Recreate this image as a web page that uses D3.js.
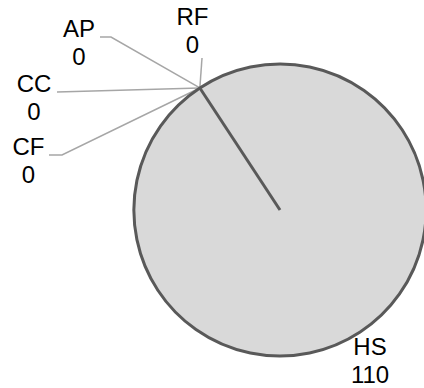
<!DOCTYPE html>
<html>
<head>
<meta charset="utf-8">
<script src="https://cdn.jsdelivr.net/npm/d3@7"></script>
<style>
  html, body { margin: 0; padding: 0; background: #fff; }
  text { font-family: "Liberation Sans", Arial, sans-serif; font-size: 24px; fill: #000; }
</style>
</head>
<body>
<svg></svg>
<script>
var categories = ["RF", "HS", "CF", "CC", "AP"];
var values = [0, 110, 0, 0, 0];

// label layout: text block centre and leader points, offsets from pie centre
var labelLayout = {
    RF: { text: [-87.5, -179.5], leader: [[-78, -152]] },
    HS: { text: [90, 150.5], leader: [] },
    CF: { text: [-251.5, -49.5], leader: [[-218, -55], [-231, -55]] },
    CC: { text: [-246, -112], leader: [[-223, -118]] },
    AP: { text: [-201, -167.5], leader: [[-169, -173], [-180, -173]] }
};

var width = 424, height = 388;
var cx = 280, cy = 210, radius = 146;
var start = -33.3 * Math.PI / 180;

var svg = d3.select("svg").attr("width", width).attr("height", height);
var g = svg.append("g").attr("transform", "translate(" + cx + "," + cy + ")");

var data = categories.map(function (c, i) { return { name: c, value: values[i] }; });

var pie = d3.pie()
    .sort(null)
    .value(function (d) { return d.value; })
    .startAngle(start)
    .endAngle(start + 2 * Math.PI);

var arc = d3.arc().innerRadius(0).outerRadius(radius);
var arcs = pie(data);

// leader lines under the pie
arcs.forEach(function (a) {
    var lay = labelLayout[a.data.name];
    if (!lay.leader.length) return;
    var p0 = d3.pointRadial(a.startAngle, radius);
    var pts = [p0].concat(lay.leader);
    g.append("path")
        .attr("d", d3.line()(pts))
        .attr("fill", "none")
        .attr("stroke", "#a6a6a6")
        .attr("stroke-width", 1.5);
});

g.selectAll(".slice")
    .data(arcs.filter(function (a) { return a.value > 0; }))
    .enter().append("path")
    .attr("class", "slice")
    .attr("d", arc)
    .attr("fill", "#d9d9d9")
    .attr("stroke", "#595959")
    .attr("stroke-width", 3);

// slice edge (full circle arc has no radial side)
arcs.filter(function (a) { return a.value > 0; }).forEach(function (a) {
    var p = d3.pointRadial(a.startAngle, radius);
    g.append("line")
        .attr("x1", 0).attr("y1", 0)
        .attr("x2", p[0]).attr("y2", p[1])
        .attr("stroke", "#595959")
        .attr("stroke-width", 3);
});

var labels = g.selectAll(".label")
    .data(arcs)
    .enter().append("text")
    .attr("class", "label")
    .attr("text-anchor", "middle")
    .attr("transform", function (d) {
        var t = labelLayout[d.data.name].text;
        return "translate(" + t[0] + "," + t[1] + ")";
    });

labels.append("tspan").attr("x", 0).attr("y", -5.6)
    .text(function (d) { return d.data.name; });
labels.append("tspan").attr("x", 0).attr("y", 22.4)
    .text(function (d) { return d.data.value; });
</script>
</body>
</html>
